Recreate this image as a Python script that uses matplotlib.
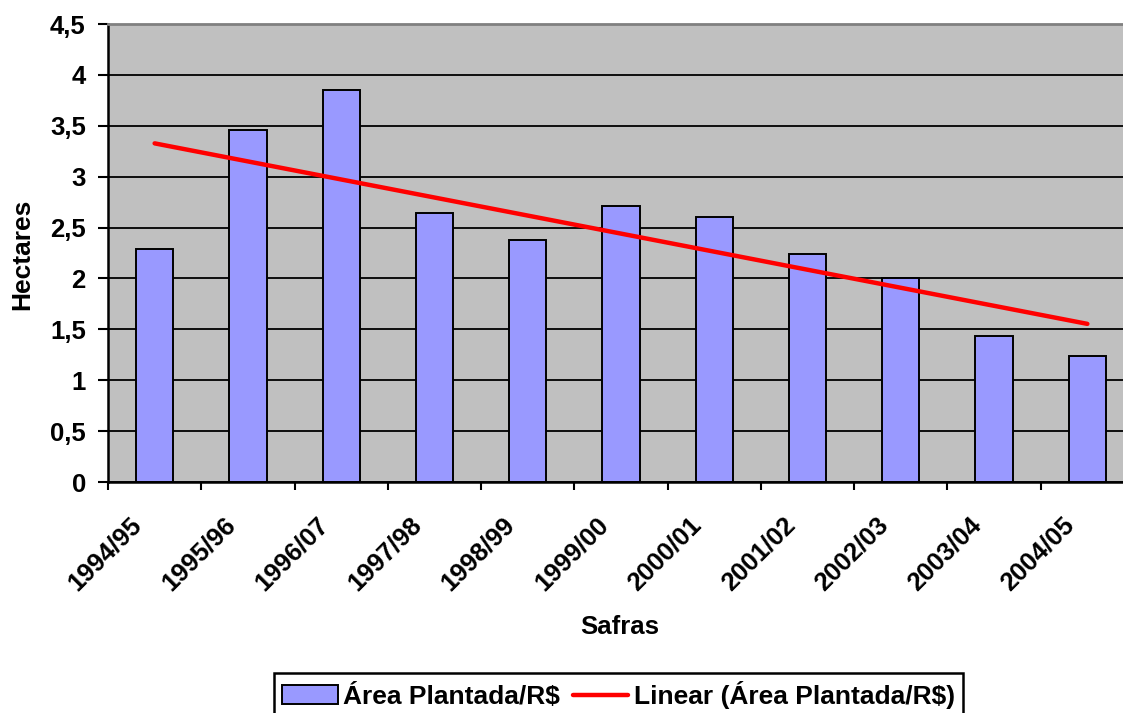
import matplotlib
matplotlib.use("Agg")
import matplotlib.pyplot as plt
import matplotlib.transforms as mtransforms
from matplotlib.ticker import FuncFormatter, FixedLocator
import numpy as np

plt.rcParams['font.family'] = ['Liberation Sans', 'DejaVu Sans']
plt.rcParams['font.weight'] = 'bold'

safras = ["1994/95", "1995/96", "1996/07", "1997/98", "1998/99", "1999/00",
          "2000/01", "2001/02", "2002/03", "2003/04", "2004/05"]
area = [2.29, 3.46, 3.85, 2.645, 2.38, 2.71, 2.60, 2.24, 2.0, 1.43, 1.24]
yticks = [0, 0.5, 1, 1.5, 2, 2.5, 3, 3.5, 4, 4.5]

W, H = 1123, 713
FS = 18.5
fig = plt.figure(figsize=(W / 100, H / 100), dpi=100)
ax = fig.add_axes([108 / W, 1 - 482 / H, (1134 - 108) / W, (482 - 24) / H])
ax.set_facecolor('#C0C0C0')

x = np.arange(len(safras))
ax.set_axisbelow(True)
ax.yaxis.grid(True, color='black', linewidth=1.3)
bars = ax.bar(x, area, width=0.4, color='#9999FF', edgecolor='black',
              linewidth=1.4, label='Área Plantada/R$', zorder=2)

coef = np.polyfit(x, area, 1)
trend = np.polyval(coef, x)
line, = ax.plot(x, trend, color='#FF0000', linewidth=3.2, solid_capstyle='round',
                label='Linear (Área Plantada/R$)', zorder=3)

ax.set_xlim(-0.5, len(safras) - 0.5)
ax.set_ylim(0, 4.5)
ax.yaxis.set_major_locator(FixedLocator(yticks))
ax.yaxis.set_major_formatter(FuncFormatter(lambda v, p: (f"{v:g}").replace('.', ',')))

ax.set_xticks(x)
ax.set_xticklabels(safras, rotation=45, ha='right', fontsize=FS, fontweight='bold')
ax.set_xticks(np.arange(-0.5, len(safras) + 0.5, 1), minor=True)
ax.tick_params(axis='x', which='major', length=0, pad=22)
ax.tick_params(axis='x', which='minor', length=6, width=1.5, direction='out')
ax.tick_params(axis='y', length=7, width=1.5, direction='out', pad=9, labelsize=FS)
for lab in ax.get_yticklabels():
    lab.set_fontweight('bold')
offset = mtransforms.ScaledTranslation(-8 / 100, 0, fig.dpi_scale_trans)
for lab in ax.xaxis.get_majorticklabels():
    lab.set_transform(lab.get_transform() + offset)

for s in ['left', 'bottom']:
    ax.spines[s].set_linewidth(1.8)
    ax.spines[s].set_color('black')
ax.spines['top'].set_color('#808080')
ax.spines['top'].set_linewidth(2)
ax.spines['right'].set_visible(False)

fig.text(22 / W, 1 - 254 / H, 'Hectares', rotation=90, ha='center', va='center',
         fontsize=19, fontweight='bold')
fig.text(620 / W, 1 - 627 / H, 'Safras', ha='center', va='center',
         fontsize=FS, fontweight='bold')

leg = fig.legend(handles=[bars, line], loc='upper center',
                 bbox_to_anchor=(618.5 / W, 1 - 673 / H), ncol=2,
                 frameon=True, fancybox=False, shadow=False, framealpha=1,
                 handlelength=2.1, handletextpad=0.2, columnspacing=0.5,
                 borderpad=0.3, borderaxespad=0,
                 prop={'weight': 'bold', 'size': 19})
leg.get_frame().set_edgecolor('black')
leg.get_frame().set_linewidth(1.8)

fig.savefig('out.png', dpi=100)
